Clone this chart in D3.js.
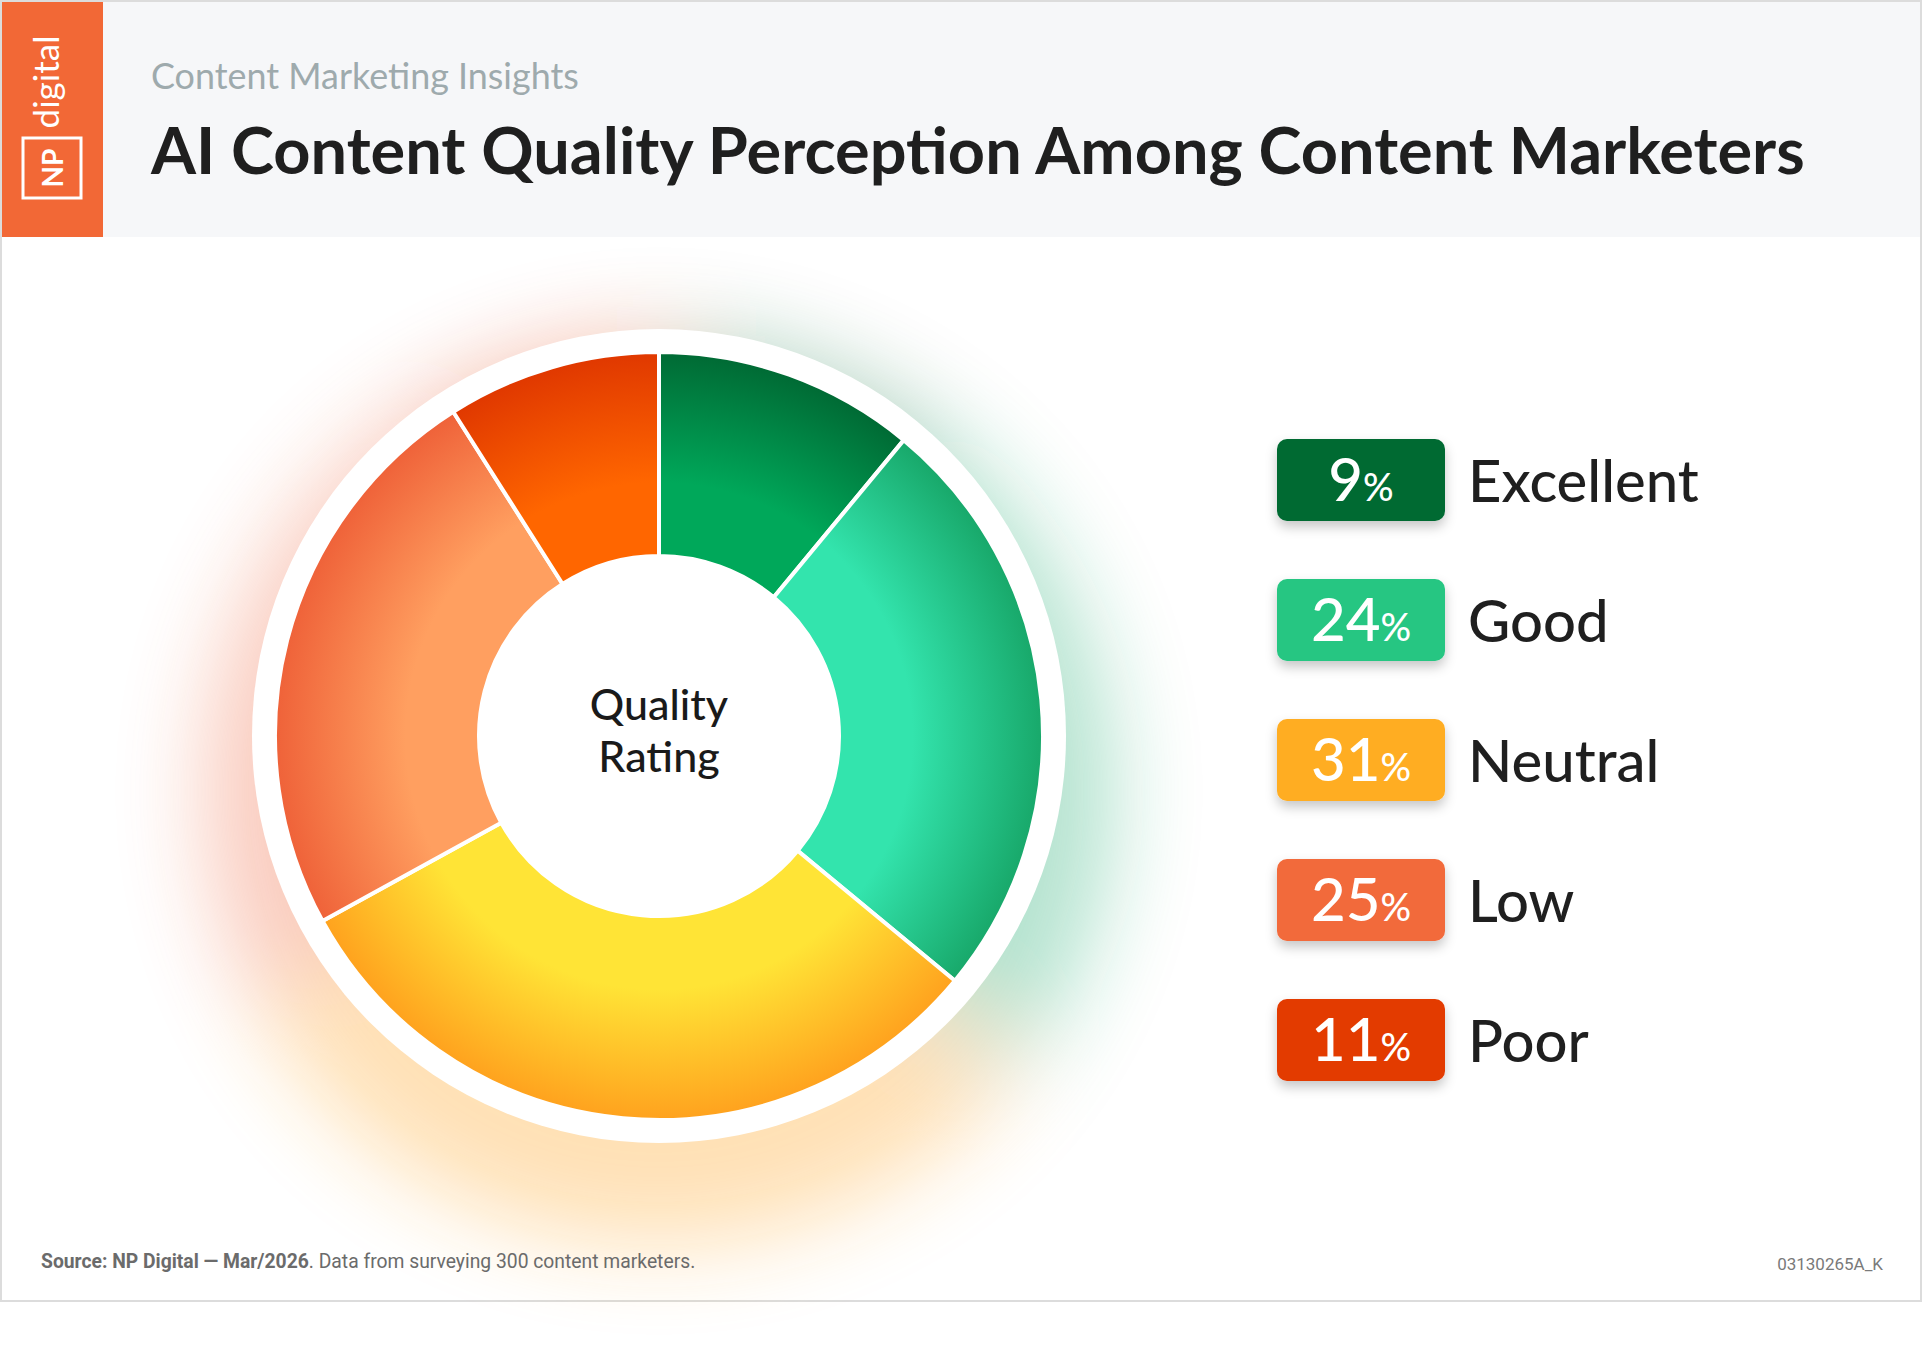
<!DOCTYPE html>
<html>
<head>
<meta charset="utf-8">
<script src="https://cdn.jsdelivr.net/npm/d3@7"></script>
<style>
  body { margin: 0; background: #fff; }
  svg { display: block; }
</style>
</head>
<body>
<div id="wrapper"></div>
<script>
// data
const categories = ["Excellent", "Good", "Neutral", "Low", "Poor"];
const shares = [9, 24, 31, 25, 11];
// in the picture the slices run the other way round: dark green ~11%, teal ~25%, ... red ~9%
const sliceShares = shares.slice().reverse();

const boxColors   = ["#006b33", "#27c682", "#ffad24", "#f26a3a", "#e33a00"];
const lightColors = ["#00a85a", "#33e4ad", "#ffe436", "#ff9f60", "#ff6600"];
const darkColors  = ["#006a34", "#18a86a", "#ffa21e", "#ef6239", "#e03800"];

const subtitle = "Content Marketing Insights";
const title = "AI Content Quality Perception Among Content Marketers";
const sourceBold = "Source: NP Digital — Mar/2026";
const sourceRest = ". Data from surveying 300 content marketers.";
const code = "03130265A_K";

const W = 1924, H = 1354;
const cx = 659, cy = 736;

const svg = d3.select("#wrapper").append("svg")
    .attr("width", W)
    .attr("height", H);

const defs = svg.append("defs");

// helper: scale font size so text fits a target width
function fitWidth(sel, target) {
    const w = sel.node().getComputedTextLength();
    const fs = parseFloat(sel.attr("font-size"));
    sel.attr("font-size", fs * target / w);
}

// card + header
svg.append("rect")
    .attr("x", 1).attr("y", 1)
    .attr("width", W - 4).attr("height", 1300)
    .attr("fill", "#fff")
    .attr("stroke", "#dcdcdc")
    .attr("stroke-width", 2);

svg.append("rect")
    .attr("x", 2).attr("y", 2)
    .attr("width", W - 6).attr("height", 235)
    .attr("fill", "#f6f7f9");

svg.append("rect")
    .attr("x", 2).attr("y", 2)
    .attr("width", 101).attr("height", 235)
    .attr("fill", "#f26836");

svg.append("text")
    .attr("transform", "translate(59,82) rotate(-90)")
    .attr("text-anchor", "middle")
    .attr("font-family", "Lato, sans-serif")
    .attr("font-size", 35)
    .attr("fill", "#fff")
    .text("digital");

svg.append("rect")
    .attr("x", 23).attr("y", 138)
    .attr("width", 58).attr("height", 60)
    .attr("fill", "none")
    .attr("stroke", "#fff")
    .attr("stroke-width", 3);

svg.append("text")
    .attr("transform", "translate(52,168) rotate(-90)")
    .attr("text-anchor", "middle")
    .attr("dominant-baseline", "central")
    .attr("font-family", "Lato, sans-serif")
    .attr("font-weight", 700)
    .attr("font-size", 28)
    .attr("fill", "#fff")
    .text("NP");

const sub = svg.append("text")
    .attr("x", 151).attr("y", 89)
    .attr("font-family", "Lato, sans-serif")
    .attr("font-size", 37)
    .attr("fill", "#9eaaad")
    .text(subtitle);
fitWidth(sub, 428);

const tt = svg.append("text")
    .attr("x", 151).attr("y", 174)
    .attr("font-family", "Lato, sans-serif")
    .attr("font-weight", 700)
    .attr("font-size", 68)
    .attr("fill", "#1f1f1f")
    .text(title);
fitWidth(tt, 1654);

// donut
const outerR = 384, innerR = 180;
const pie = d3.pie().sort(null).value(d => d);
const arcs = pie(sliceShares);

const blur = defs.append("filter")
    .attr("id", "glow")
    .attr("x", "-50%").attr("y", "-50%")
    .attr("width", "200%").attr("height", "200%");
blur.append("feGaussianBlur").attr("stdDeviation", 45);

const glowArc = d3.arc().innerRadius(250).outerRadius(455);

svg.append("g")
    .attr("transform", `translate(${cx},${cy + 55})`)
    .attr("filter", "url(#glow)")
    .attr("opacity", 0.32)
    .selectAll("path")
    .data(arcs)
    .join("path")
    .attr("d", glowArc)
    .attr("fill", (d, i) => darkColors[i]);

const donut = svg.append("g")
    .attr("transform", `translate(${cx},${cy})`);

donut.append("circle")
    .attr("r", 407)
    .attr("fill", "#fff");

categories.forEach((c, i) => {
    const g = defs.append("radialGradient")
        .attr("id", "grad" + i)
        .attr("gradientUnits", "userSpaceOnUse")
        .attr("cx", 0).attr("cy", 0).attr("r", outerR);
    g.append("stop").attr("offset", 0.47).attr("stop-color", lightColors[i]);
    g.append("stop").attr("offset", 0.66).attr("stop-color", lightColors[i]);
    g.append("stop").attr("offset", 1).attr("stop-color", darkColors[i]);
});

const arc = d3.arc().innerRadius(innerR).outerRadius(outerR);

donut.selectAll("path.slice")
    .data(arcs)
    .join("path")
    .attr("class", "slice")
    .attr("d", arc)
    .attr("fill", (d, i) => `url(#grad${i})`)
    .attr("stroke", "#fff")
    .attr("stroke-width", 4)
    .attr("stroke-linejoin", "round");

donut.append("text")
    .attr("y", -16)
    .attr("text-anchor", "middle")
    .attr("font-family", "Lato, sans-serif")
    .attr("font-weight", 500)
    .attr("font-size", 43)
    .attr("fill", "#1a1a1a")
    .text("Quality");

donut.append("text")
    .attr("y", 36)
    .attr("text-anchor", "middle")
    .attr("font-family", "Lato, sans-serif")
    .attr("font-weight", 500)
    .attr("font-size", 43)
    .attr("fill", "#1a1a1a")
    .text("Rating");

// legend
const yScale = d3.scaleBand()
    .domain(categories)
    .range([410, 1110]);

const shadow = defs.append("filter")
    .attr("id", "boxShadow")
    .attr("x", "-20%").attr("y", "-30%")
    .attr("width", "140%").attr("height", "180%");
shadow.append("feDropShadow")
    .attr("dx", 0).attr("dy", 6)
    .attr("stdDeviation", 6)
    .attr("flood-color", "#000")
    .attr("flood-opacity", 0.22);

const rows = svg.append("g")
    .selectAll("g")
    .data(categories)
    .join("g")
    .attr("transform", d => `translate(0,${yScale(d) + yScale.bandwidth() / 2})`);

rows.append("rect")
    .attr("x", 1277).attr("y", -41)
    .attr("width", 168).attr("height", 82)
    .attr("rx", 10)
    .attr("fill", (d, i) => boxColors[i])
    .attr("filter", "url(#boxShadow)");

const pct = rows.append("text")
    .attr("x", 1361).attr("y", 21)
    .attr("text-anchor", "middle")
    .attr("font-family", "Lato, sans-serif")
    .attr("font-weight", 500)
    .attr("fill", "#fff");
pct.append("tspan")
    .attr("font-size", 60)
    .text((d, i) => shares[i]);
pct.append("tspan")
    .attr("font-size", 38)
    .text("%");

rows.append("text")
    .attr("x", 1468).attr("y", 22)
    .attr("font-family", "Lato, sans-serif")
    .attr("font-weight", 500)
    .attr("font-size", 58)
    .attr("fill", "#1f1f1f")
    .text(d => d);

// footer
const src = svg.append("text")
    .attr("x", 41).attr("y", 1268)
    .attr("font-family", "'Liberation Sans Narrow', Roboto, sans-serif")
    .attr("font-size", 19)
    .attr("fill", "#6b6b6b");
src.append("tspan").attr("font-weight", 700).text(sourceBold);
src.append("tspan").text(sourceRest);
fitWidth(src, 655);

svg.append("text")
    .attr("x", 1883).attr("y", 1270)
    .attr("text-anchor", "end")
    .attr("font-family", "Roboto, sans-serif")
    .attr("font-size", 17)
    .attr("fill", "#7a7a7a")
    .text(code);
</script>
</body>
</html>
